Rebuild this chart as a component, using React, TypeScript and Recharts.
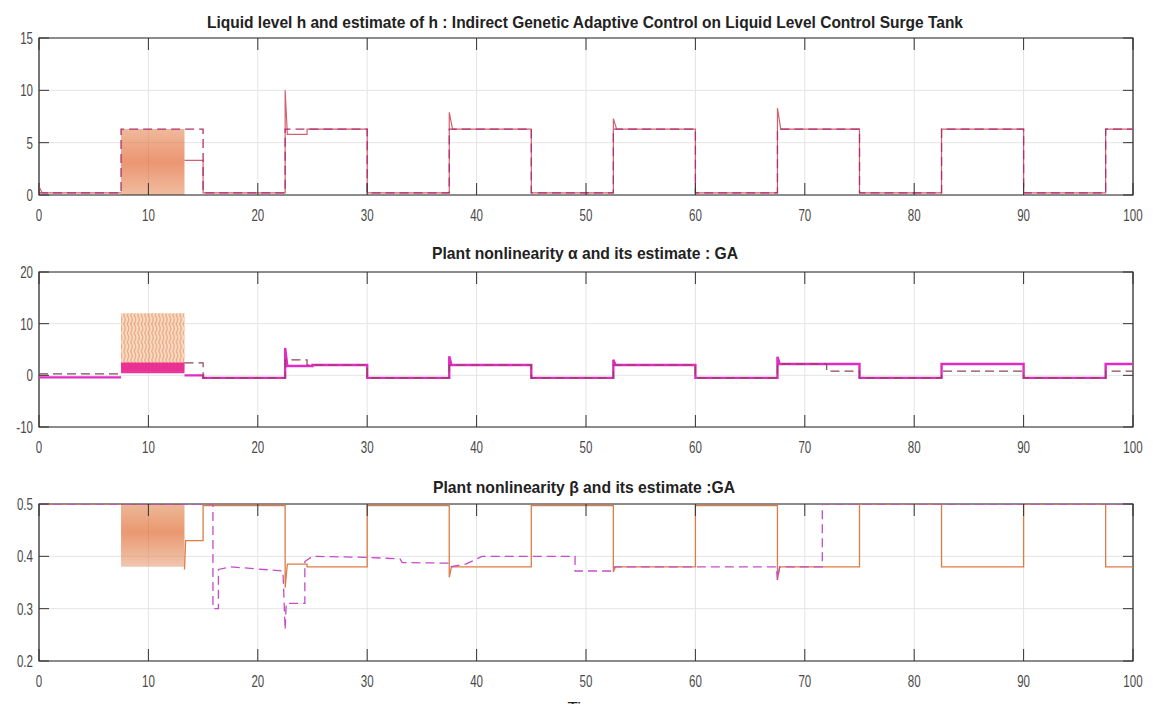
import React from 'react';
import {
  ComposedChart,
  Line,
  Area,
  XAxis,
  YAxis,
  CartesianGrid,
  ReferenceArea,
} from 'recharts';

const W = 1153;
const H = 704;
const PLOT_L = 39;
const PLOT_R = 1133;
const FONT = '"Liberation Sans", Arial, sans-serif';

const timeTicks = [0, 10, 20, 30, 40, 50, 60, 70, 80, 90, 100];

// liquid level h (solid) and its estimate (dashed)
const hT = [0, 0.3, 7.5, 10, 13.3, 15, 15, 22.5, 22.5, 22.7, 24.5, 24.5, 30, 30, 37.5, 37.5, 37.8, 45, 45, 52.5, 52.5, 52.8, 60, 60, 67.5, 67.5, 67.8, 75, 75, 82.5, 82.5, 90, 90, 97.5, 97.5, 100];
const hV = [0.8, 0.2, 0.2, null, 3.3, 3.3, 0.2, 0.2, 10, 5.8, 5.8, 6.3, 6.3, 0.2, 0.2, 7.9, 6.3, 6.3, 0.2, 0.2, 7.3, 6.3, 6.3, 0.2, 0.2, 8.3, 6.3, 6.3, 0.2, 0.2, 6.3, 6.3, 0.2, 0.2, 6.3, 6.3];
const hHatT = [0, 7.5, 7.5, 15, 15, 22.5, 22.5, 30, 30, 37.5, 37.5, 45, 45, 52.5, 52.5, 60, 60, 67.5, 67.5, 75, 75, 82.5, 82.5, 90, 90, 97.5, 97.5, 100];
const hHatV = [0.2, 0.2, 6.3, 6.3, 0.2, 0.2, 6.3, 6.3, 0.2, 0.2, 6.3, 6.3, 0.2, 0.2, 6.3, 6.3, 0.2, 0.2, 6.3, 6.3, 0.2, 0.2, 6.3, 6.3, 0.2, 0.2, 6.3, 6.3];
const hBandT = [7.5, 13.3];
const hBandLo = [0, 0];
const hBandHi = [6.3, 6.3];

// plant nonlinearity alpha
const alphaT = [0, 7.5, 10, 13.3, 15, 15, 22.5, 22.5, 22.7, 25, 25, 30, 30, 37.5, 37.5, 37.7, 45, 45, 52.5, 52.5, 52.7, 60, 60, 67.5, 67.5, 67.7, 75, 75, 82.5, 82.5, 90, 90, 97.5, 97.5, 100];
const alphaV = [-0.4, -0.4, null, 0, 0, -0.5, -0.5, 5.3, 1.8, 1.8, 2.0, 2.0, -0.5, -0.5, 3.7, 2.0, 2.0, -0.5, -0.5, 3.0, 2.0, 2.0, -0.5, -0.5, 3.6, 2.2, 2.2, -0.5, -0.5, 2.2, 2.2, -0.5, -0.5, 2.2, 2.2];
const alphaHatT = [0, 7.5, 10, 13.3, 15, 15, 22.5, 22.5, 24.5, 24.5, 30, 30, 37.5, 37.5, 45, 45, 52.5, 52.5, 60, 60, 67.5, 67.5, 72, 72, 75, 75, 82.5, 82.5, 90, 90, 97.5, 97.5, 100];
const alphaHatV = [0.3, 0.3, null, 2.4, 2.4, -0.5, -0.5, 3.0, 3.0, 2.0, 2.0, -0.5, -0.5, 2.0, 2.0, -0.5, -0.5, 2.0, 2.0, -0.5, -0.5, 2.2, 2.2, 0.8, 0.8, -0.5, -0.5, 0.8, 0.8, -0.5, -0.5, 0.8, 0.8];
const alphaBandT = [7.5, 13.3];
const alphaBandLo = [0.4, 0.4];
const alphaBandHi = [2.5, 2.5];
const alphaHatBandLo = [1, 1];
const alphaHatBandHi = [12, 12];

// plant nonlinearity beta
const betaT = [0, 7.5, 10, 13.3, 13.4, 15, 15, 22.5, 22.5, 22.7, 24.5, 24.5, 30, 30, 37.5, 37.5, 37.7, 45, 45, 52.5, 52.5, 52.7, 60, 60, 67.5, 67.5, 67.7, 75, 75, 82.5, 82.5, 90, 90, 97.5, 97.5, 100];
const betaV = [0.5, 0.5, null, 0.375, 0.43, 0.43, 0.497, 0.497, 0.34, 0.385, 0.385, 0.38, 0.38, 0.497, 0.497, 0.36, 0.38, 0.38, 0.497, 0.497, 0.37, 0.38, 0.38, 0.497, 0.497, 0.355, 0.38, 0.38, 0.5, 0.5, 0.38, 0.38, 0.5, 0.5, 0.38, 0.38];
const betaHatT = [0, 15.9, 15.9, 16.4, 16.4, 17.5, 22.3, 22.5, 22.6, 24.3, 24.3, 25, 30, 33, 33.2, 37.5, 37.6, 39, 40.5, 49, 49, 52.5, 52.6, 67.4, 67.5, 67.7, 71.6, 71.6, 100];
const betaHatV = [0.5, 0.5, 0.3, 0.3, 0.375, 0.38, 0.372, 0.26, 0.31, 0.31, 0.39, 0.4, 0.398, 0.395, 0.388, 0.387, 0.38, 0.385, 0.4, 0.4, 0.372, 0.372, 0.38, 0.38, 0.355, 0.38, 0.38, 0.5, 0.5];
const betaBandT = [7.5, 13.3];
const betaBandLo = [0.38, 0.38];
const betaBandHi = [0.5, 0.5];

const pts = (t: number[], v: (number | null)[]) => t.map((x, i) => ({ t: x, v: v[i] }));
const band = (t: number[], lo: number[], hi: number[]) => t.map((x, i) => ({ t: x, b: [lo[i], hi[i]] }));

type PanelProps = {
  top: number;
  height: number;
  plotTop: number;
  plotBottom: number;
  yDomain: [number, number];
  yTicks: number[];
  children: React.ReactNode;
};

function Panel({ top, height, plotTop, plotBottom, yDomain, yTicks, children }: PanelProps) {
  const mTop = plotTop - top;
  const pBottom = plotBottom - top;
  const axisH = 30;

  // MATLAB-style ticks: pointing inwards on both sides of the box
  const xTick = (props: any) => {
    const { x, payload } = props;
    return (
      <g>
        <line x1={x} x2={x} y1={pBottom} y2={pBottom - 12} stroke="#333" />
        <line x1={x} x2={x} y1={mTop} y2={mTop + 12} stroke="#333" />
        <text
          transform={`translate(${x},${pBottom + 26}) scale(0.68,1)`}
          textAnchor="middle"
          fontFamily={FONT}
          fontSize={17}
          fill="#4a4a4a"
        >
          {payload.value}
        </text>
      </g>
    );
  };

  const yTick = (props: any) => {
    const { y, payload } = props;
    return (
      <g>
        <line x1={PLOT_L} x2={PLOT_L + 10} y1={y} y2={y} stroke="#333" />
        <line x1={PLOT_R - 10} x2={PLOT_R} y1={y} y2={y} stroke="#333" />
        <text
          transform={`translate(${PLOT_L - 6},${y + 6}) scale(0.68,1)`}
          textAnchor="end"
          fontFamily={FONT}
          fontSize={17}
          fill="#4a4a4a"
        >
          {payload.value}
        </text>
      </g>
    );
  };

  return (
    <div style={{ position: 'absolute', left: 0, top, width: W, height }}>
      <ComposedChart
        width={W}
        height={height}
        margin={{ top: mTop, right: W - PLOT_R, left: 8, bottom: height - pBottom - axisH }}
      >
        <defs>
          <linearGradient id="hBand" x1="0" y1="0" x2="0" y2="1">
            <stop offset="0" stopColor="#e58a58" />
            <stop offset="0.5" stopColor="#df4f14" />
            <stop offset="1" stopColor="#e6905e" />
          </linearGradient>
          <linearGradient id="betaBand" x1="0" y1="0" x2="0" y2="1">
            <stop offset="0" stopColor="#e08850" />
            <stop offset="0.45" stopColor="#dc5412" />
            <stop offset="1" stopColor="#e6a07a" />
          </linearGradient>
          <pattern id="zig" width="7" height="9" patternUnits="userSpaceOnUse">
            <rect width="7" height="9" fill="#f4c29c" />
            <path d="M1 0 Q4.5 4.5 1 9 M4.5 0 Q8 4.5 4.5 9" stroke="#de7a3a" fill="none" strokeWidth="1.4" />
          </pattern>
        </defs>
        <CartesianGrid stroke="#e4e4e4" />
        <XAxis
          dataKey="t"
          type="number"
          domain={[0, 100]}
          ticks={timeTicks}
          height={axisH}
          tickSize={0}
          axisLine={false}
          tick={xTick}
          allowDataOverflow
        />
        <YAxis
          type="number"
          domain={yDomain}
          ticks={yTicks}
          width={31}
          tickSize={0}
          axisLine={false}
          tick={yTick}
          allowDataOverflow
        />
        {children}
        <ReferenceArea
          x1={0}
          x2={100}
          y1={yDomain[0]}
          y2={yDomain[1]}
          fill="none"
          stroke="#262626"
          strokeWidth={1.2}
          ifOverflow="visible"
        />
      </ComposedChart>
    </div>
  );
}

export default function App() {
  return (
    <div style={{ position: 'absolute', left: 0, top: 0, width: W, height: H, background: '#fff', overflow: 'hidden' }}>
      <Panel top={0} height={235} plotTop={38} plotBottom={195} yDomain={[0, 15]} yTicks={[0, 5, 10, 15]}>
        <Area data={band(hBandT, hBandLo, hBandHi)} dataKey="b" type="linear" stroke="none" fill="url(#hBand)" isAnimationActive={false} />
        <Line data={pts(hT, hV)} dataKey="v" type="linear" stroke="#d4606e" strokeWidth={1.2} dot={false} isAnimationActive={false} />
        <Line data={pts(hHatT, hHatV)} dataKey="v" type="linear" stroke="#b0306e" strokeWidth={1.3} strokeDasharray="9 5" dot={false} isAnimationActive={false} />
      </Panel>

      <Panel top={234} height={235} plotTop={272} plotBottom={427} yDomain={[-10, 20]} yTicks={[-10, 0, 10, 20]}>
        <Area data={band(alphaBandT, alphaHatBandLo, alphaHatBandHi)} dataKey="b" type="linear" stroke="none" fill="url(#zig)" isAnimationActive={false} />
        <Area data={band(alphaBandT, alphaBandLo, alphaBandHi)} dataKey="b" type="linear" stroke="none" fill="#e8208f" fillOpacity={0.9} isAnimationActive={false} />
        <Line data={pts(alphaT, alphaV)} dataKey="v" type="linear" stroke="#e02cc4" strokeWidth={2.4} dot={false} isAnimationActive={false} />
        <Line data={pts(alphaHatT, alphaHatV)} dataKey="v" type="linear" stroke="#8c4456" strokeWidth={1.2} strokeDasharray="9 5" dot={false} isAnimationActive={false} />
      </Panel>

      <Panel top={466} height={238} plotTop={504} plotBottom={661} yDomain={[0.2, 0.5]} yTicks={[0.2, 0.3, 0.4, 0.5]}>
        <Area data={band(betaBandT, betaBandLo, betaBandHi)} dataKey="b" type="linear" stroke="none" fill="url(#betaBand)" isAnimationActive={false} />
        <Line data={pts(betaT, betaV)} dataKey="v" type="linear" stroke="#dc7c46" strokeWidth={1.3} dot={false} isAnimationActive={false} />
        <Line data={pts(betaHatT, betaHatV)} dataKey="v" type="linear" stroke="#c44cc8" strokeWidth={1.3} strokeDasharray="9 5" dot={false} isAnimationActive={false} />
      </Panel>

      <svg width={W} height={H} style={{ position: 'absolute', left: 0, top: 0, pointerEvents: 'none' }}>
        <g fontFamily={FONT} fontWeight="bold" fontSize={17} fill="#222">
          <text x={207} y={28} textLength={756} lengthAdjust="spacingAndGlyphs">
            Liquid level h and estimate of h : Indirect Genetic Adaptive Control on Liquid Level Control Surge Tank
          </text>
          <text x={432} y={259} textLength={306} lengthAdjust="spacingAndGlyphs">
            Plant nonlinearity α and its estimate : GA
          </text>
          <text x={433} y={493} textLength={302} lengthAdjust="spacingAndGlyphs">
            Plant nonlinearity β and its estimate :GA
          </text>
          <text x={586} y={714} textAnchor="middle" fontWeight="normal">Time</text>
        </g>
      </svg>
    </div>
  );
}
